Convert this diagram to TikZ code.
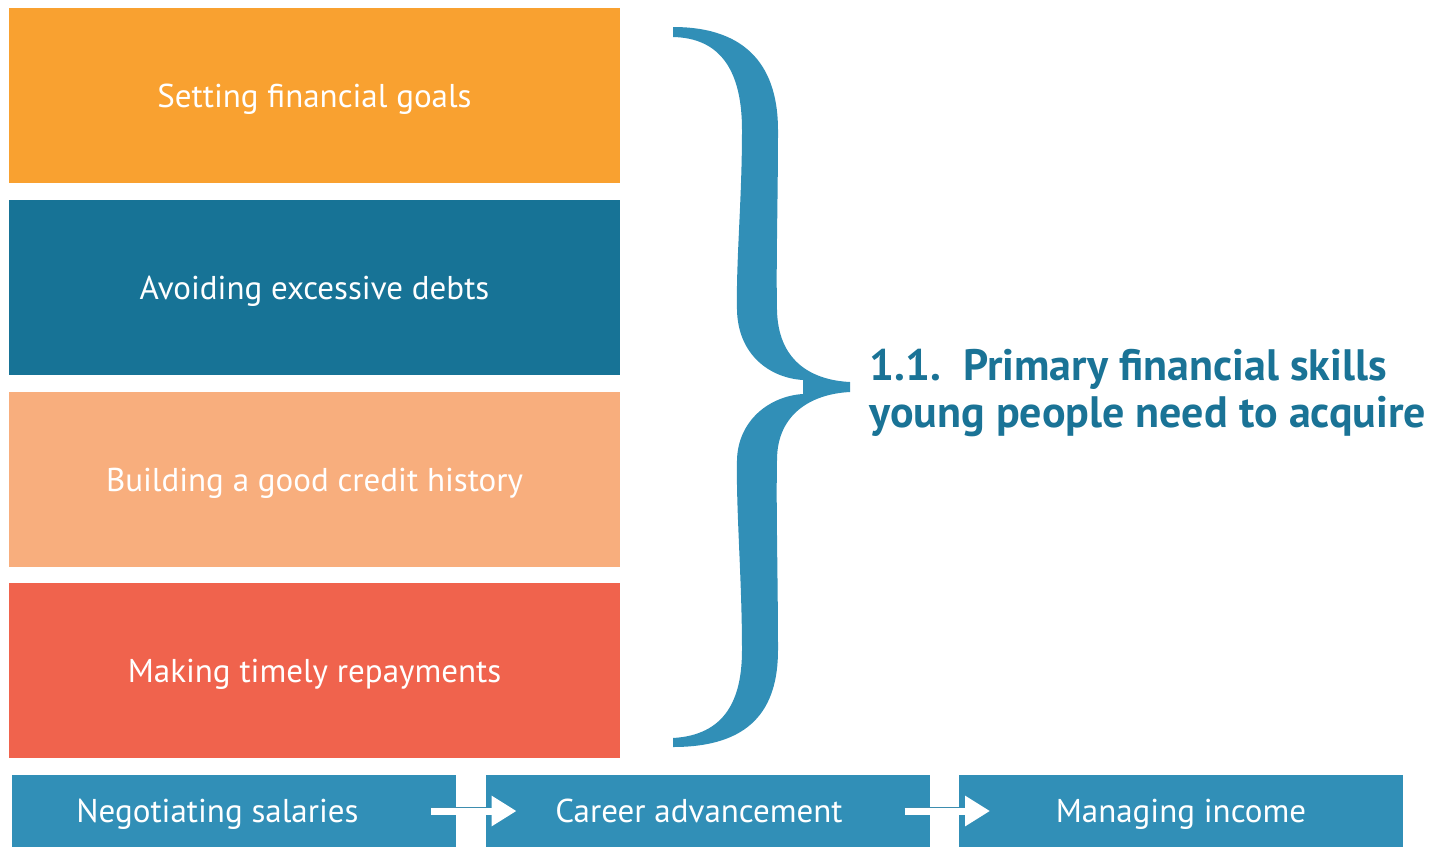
\documentclass[tikz,border=0pt]{standalone}
\usepackage{fontspec}
\setmainfont{PT Sans}
\usetikzlibrary{positioning,arrows.meta}
\definecolor{goalorange}{RGB}{249,161,48}
\definecolor{debtteal}{RGB}{23,115,150}
\definecolor{creditpeach}{RGB}{248,174,125}
\definecolor{repayred}{RGB}{240,99,77}
\definecolor{stageblue}{RGB}{49,143,183}
\definecolor{titleteal}{RGB}{26,115,150}
\begin{document}
\begin{tikzpicture}
[x=0.5pt, y=-0.5pt,
skill/.style ={rectangle, fill=#1, text=white, inner sep=0pt, outer sep=0pt,
minimum width=305.5pt, minimum height=87.5pt,
text height=11.5pt, text depth=0pt,
font=\fontsize{16.5}{19}\selectfont},
stage/.style ={rectangle, fill=stageblue, text=white, inner sep=0pt, outer sep=0pt,
minimum width=222pt, minimum height=36pt,
text height=11.5pt, text depth=0pt,
font=\fontsize{16.5}{19}\selectfont},
aim/.style ={text=titleteal, align=left, inner sep=0pt,
font=\bfseries\fontsize{22}{23.5}\selectfont},
flow/.style ={draw=white, line width=3.5pt,
-{Triangle[length=12.5pt,width=14.5pt]},
shorten <=-12.5pt, shorten >=-15.5pt,
preaction={draw=stageblue!85!gray, line width=4.1pt, arrows=-, shorten >=0pt}}]
\useasboundingbox (0,0) rectangle (1446,847);
% skill boxes
\node [skill=goalorange] (goals) at (314.5,95.5) {Setting financial goals};
\node [skill=debtteal, below=8.5pt of goals] (debts) {Avoiding excessive debts};
\node [skill=creditpeach, below=8.5pt of debts] (credit) {Building a good credit history};
\node [skill=repayred, below=8pt of credit] (repay) {Making timely repayments};
% brace
\fill [stageblue]
(673,27) .. controls (750,27) and (778,70) .. (778,130)
.. controls (778,200) and (776,260) .. (777,310)
.. controls (778,360) and (810,380) .. (850,382)
-- (850,392)
.. controls (810,394) and (777,415) .. (777,460)
.. controls (776,510) and (778,580) .. (778,650)
.. controls (778,710) and (750,747) .. (673,747)
-- (673,738)
.. controls (725,735) and (742,700) .. (742,650)
.. controls (742,580) and (736,510) .. (737,460)
.. controls (738,420) and (770,396) .. (803,394)
-- (803,380)
.. controls (770,378) and (738,355) .. (737,310)
.. controls (736,260) and (742,200) .. (742,130)
.. controls (742,70) and (720,38) .. (673,37) -- cycle;
\node [aim, anchor=west] (skills) at (869,393)
{1.1.\ \ Primary financial skills\\young people need to acquire};
% row of stages
\node [stage, anchor=north west] (neg) at (12,775) {Negotiating salaries\kern16.5pt};
\node [stage, right=14.75pt of neg] (car) {Career advancement\kern8.5pt};
\node [stage, right=14.75pt of car] (inc) {Managing income};
\draw [flow] (neg) -- (car);
\draw [flow] (car) -- (inc);
\end{tikzpicture}
\end{document}
